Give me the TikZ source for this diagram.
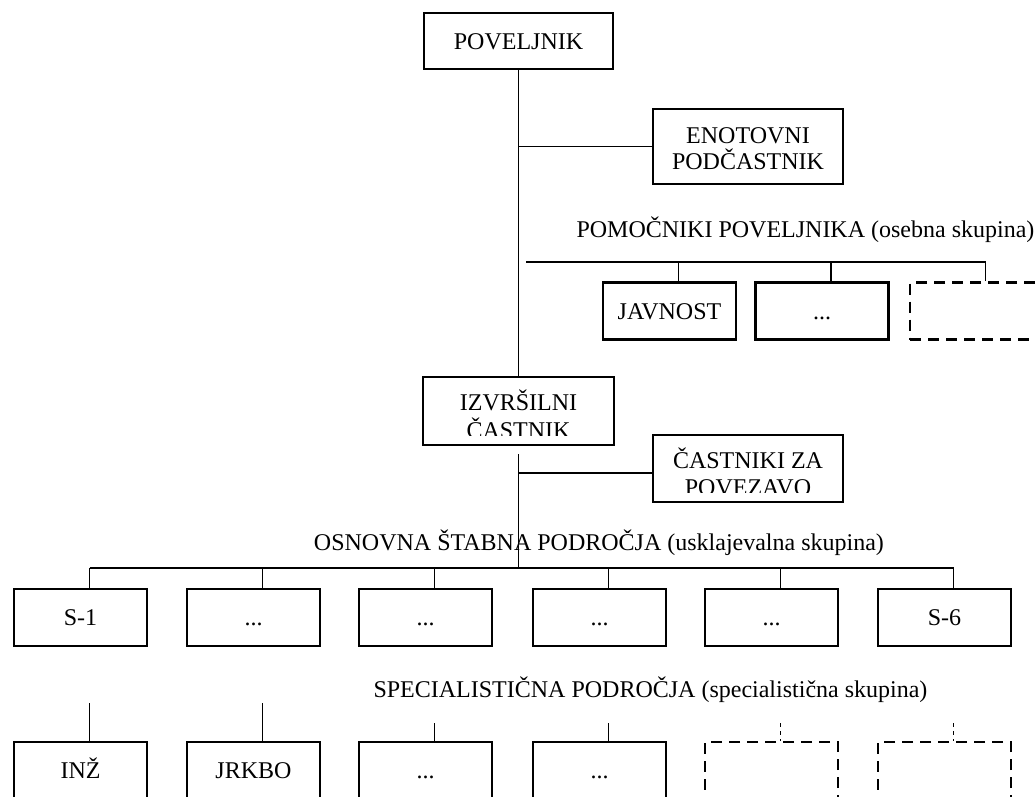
\documentclass[tikz,border=0pt]{standalone}
\usepackage{fontspec}
\setmainfont{Liberation Serif}
\newcommand\orgfont{\fontsize{24}{28}\selectfont}
\begin{document}
\begin{tikzpicture}[x=1pt,y=-1pt,
  box/.style={draw, line width=2.8pt, minimum width=133pt, minimum height=57pt,
    inner sep=0pt, font=\orgfont, text height=16pt, text depth=0pt},
  open box/.style={box, dash pattern=on 11pt off 7pt},
  txt/.style={inner sep=0pt, font=\orgfont},
  conn/.style={line width=1.8pt},
  open conn/.style={line width=1.8pt, dash pattern=on 4pt off 4pt}]
\useasboundingbox (0,0) rectangle (1035,796);

% command level
\node[box, minimum width=189pt, minimum height=56pt] (pov) at (518.5,41) {POVELJNIK};
\node[box, minimum width=190pt, minimum height=75pt] (enp) at (748,146.5) {};
\node[txt, anchor=base] (enpA) at (748,143) {ENOTOVNI};
\node[txt, anchor=base] (enpB) at (748,169) {PODČASTNIK};

% personal staff
\node[txt, anchor=base] (pomlbl) at (805.5,237) {POMOČNIKI POVELJNIKA (osebna skupina)};
\node[box] (jav) at (669.5,311) {JAVNOST};
\node[box] (pom2) at (822,311) {...};
\node[open box] (pom3) at (976.5,311) {};

% executive officer (text cut off by the frame)
\node[box, minimum width=191pt, minimum height=68pt] (izv) at (518.5,411) {};
\begin{scope}
  \clip (422,376) rectangle (615,435);
  \node[txt, anchor=base] (izvA) at (518.5,410) {IZVRŠILNI};
  \node[txt, anchor=base] (izvB) at (518.5,438) {ČASTNIK};
\end{scope}

% liaison officers (text cut off by the frame)
\node[box, minimum width=190pt, minimum height=67pt] (cpz) at (748,468.5) {};
\begin{scope}
  \clip (652,434) rectangle (844,492);
  \node[txt, anchor=base] (cpzA) at (748,468) {ČASTNIKI ZA};
  \node[txt, anchor=base] (cpzB) at (748,495) {POVEZAVO};
\end{scope}

% coordinating staff
\node[txt, anchor=base] (oslbl) at (599,550) {OSNOVNA ŠTABNA PODROČJA (usklajevalna skupina)};
\node[box] (s1) at (80.5,617.5) {S-1};
\node[box] (s2) at (253.5,617.5) {...};
\node[box] (s3) at (425.5,617.5) {...};
\node[box] (s4) at (599.5,617.5) {...};
\node[box] (s5) at (771.5,617.5) {...};
\node[box] (s6) at (944.5,617.5) {S-6};

% special staff
\node[txt, anchor=base] (splbl) at (650.5,697) {SPECIALISTIČNA PODROČJA (specialistična skupina)};
\node[box] (p1) at (80.5,770.5) {INŽ};
\node[box] (p2) at (253.5,770.5) {JRKBO};
\node[box] (p3) at (425.5,770.5) {...};
\node[box] (p4) at (599.5,770.5) {...};
\node[open box] (p5) at (771.5,770.5) {};
\node[open box] (p6) at (944.5,770.5) {};

% main chain
\draw[conn] (pov.south) -- (izv.north);
\draw[conn] (pov.south |- enp.west) -- (enp.west);

% personal staff bus
\coordinate (busA) at (526,262);
\coordinate (busAend) at ([xshift=9pt]pom3.north |- busA);
\draw[conn] (busA) -- (busAend);
\foreach \n in {jav,pom2,pom3}
  \draw[conn] ([xshift=9pt]\n.north |- busA) -- ([xshift=9pt]\n.north);

% below the executive officer
\coordinate (izvs) at ([yshift=-8pt]izv.south);
\coordinate (busB) at (0,568);
\draw[conn] (izvs) -- (izvs |- busB);
\draw[conn] (izvs |- cpz.west) ++(0,4.5) -- ([yshift=-4.5pt]cpz.west);
\draw[conn] ([xshift=9pt]s1.north |- busB) -- ([xshift=9pt]s6.north |- busB);
\foreach \n in {s1,s2,s3,s4,s5,s6}
  \draw[conn] ([xshift=9pt]\n.north |- busB) -- ([xshift=9pt]\n.north);

% special staff stubs
\coordinate (hiC) at (0,703);
\coordinate (loC) at (0,723);
\foreach \n in {p1,p2}
  \draw[conn] ([xshift=9pt]\n.north |- hiC) -- ([xshift=9pt]\n.north);
\foreach \n in {p3,p4}
  \draw[conn] ([xshift=9pt]\n.north |- loC) -- ([xshift=9pt]\n.north);
\foreach \n in {p5,p6}
  \draw[open conn] ([xshift=9pt]\n.north |- loC) -- ([xshift=9pt]\n.north);
\end{tikzpicture}
\end{document}
